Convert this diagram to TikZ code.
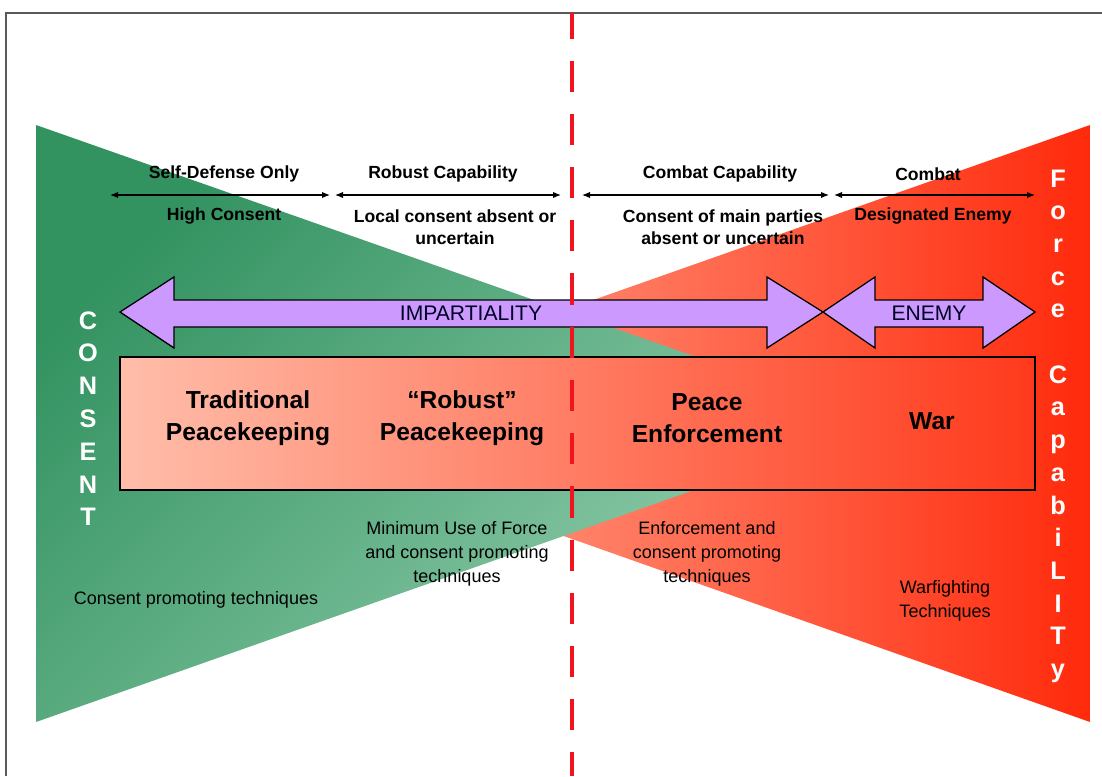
\documentclass[tikz,border=0pt]{standalone}
\usepackage{fontspec}
\setmainfont{Liberation Sans}
\usepackage{tikz}
\usetikzlibrary{arrows.meta}
\definecolor{consentdark}{RGB}{50,146,96}
\definecolor{consentlight}{RGB}{150,208,176}
\definecolor{forcelight}{RGB}{255,186,164}
\definecolor{forcedark}{RGB}{255,42,12}
\definecolor{boxleft}{RGB}{255,190,170}
\definecolor{boxmid}{RGB}{255,142,122}
\definecolor{boxright}{RGB}{255,58,28}
\definecolor{impfill}{RGB}{204,153,255}
\definecolor{divred}{RGB}{240,20,30}
\newcommand{\blockarrow}[4]{
    \draw[blockarr] (#1,312) -- (#2,277) -- (#2,300) -- (#3,300) -- (#3,277) -- (#4,312)
        -- (#3,348) -- (#3,327) -- (#2,327) -- (#2,348) -- cycle;
}

\begin{document}
\begin{tikzpicture}[x=0.025cm, y=-0.025cm,
        blockarr/.style={fill=impfill, draw=black, line width=0.9pt, line join=miter},
        rangearr/.style={{Latex[length=2mm,width=1.6mm]}-{Latex[length=2mm,width=1.6mm]}, line width=0.9pt},
        toplabel/.style={font=\bfseries\fontsize{12.5}{15.5}\selectfont, align=center},
        boxlabel/.style={font=\bfseries\fontsize{17.5}{22.5}\selectfont, align=center},
        lowlabel/.style={font=\fontsize{12.8}{17}\selectfont, align=center},
        arrlabel/.style={font=\fontsize{15}{18}\selectfont, text=black!85!blue},
        vletter/.style={font=\bfseries\fontsize{18}{18}\selectfont, text=white, anchor=base, inner sep=0pt}]
        \useasboundingbox (0,0) rectangle (1102,776);
        \draw[line width=1.2pt, draw=black!65] (6,776) -- (6,13) -- (1102,13);
        \shade[left color=forcelight, right color=forcedark] (1090,125) -- (1090,722) -- (244,423) -- cycle;
        \shade[top color=consentdark, bottom color=consentlight, shading angle=45] (36,125) -- (36,722) -- (884,423) -- cycle;
        \shadedraw[draw=black, line width=1pt, left color=boxleft, middle color=boxmid, right color=boxright] (120,357) rectangle (1035,490);
        \blockarrow{120}{174}{767}{823}
        \blockarrow{823}{875}{983}{1035}
        \node[arrlabel] (impart) at (471,313) {IMPARTIALITY};
        \node[arrlabel] (enemy) at (929,313) {ENEMY};
        \coordinate (r1a) at (110,195);
        \coordinate (r1b) at (330,195);
        \coordinate (r2a) at (335,195);
        \coordinate (r2b) at (561,195);
        \coordinate (r3a) at (582,195);
        \coordinate (r3b) at (829,195);
        \coordinate (r4a) at (834,195);
        \coordinate (r4b) at (1035,195);
        \draw[rangearr] (r1a) -- (r1b);
        \draw[rangearr] (r2a) -- (r2b);
        \draw[rangearr] (r3a) -- (r3b);
        \draw[rangearr] (r4a) -- (r4b);
        \node[toplabel] (selfdef) at (224,174) {Self-Defense Only};
        \node[toplabel] (robcap) at (443,174) {Robust Capability};
        \node[toplabel] (combcap) at (720,174) {Combat Capability};
        \node[toplabel] (combat) at (928,174) {Combat};
        \node[toplabel] (highcons) at (224,216) {High Consent};
        \node[toplabel] (localcons) at (455,227) {Local consent absent or\\uncertain};
        \node[toplabel] (maincons) at (723,227) {Consent of main parties\\absent or uncertain};
        \node[toplabel] (desenemy) at (933,216) {Designated Enemy};
        \node[boxlabel] (tradpk) at (248,418) {Traditional\\Peacekeeping};
        \node[boxlabel] (robpk) at (462,418) {“Robust”\\Peacekeeping};
        \node[boxlabel] (peaceenf) at (707,418) {Peace\\Enforcement};
        \node[boxlabel] (war) at (932,421) {War};
        \node[lowlabel] (minforce) at (457,554) {Minimum Use of Force\\and consent promoting\\techniques};
        \node[lowlabel] (enfcons) at (707,554) {Enforcement and\\consent promoting\\techniques};
        \node[lowlabel] (conspromo) at (196,600) {Consent promoting techniques};
        \node[lowlabel] (warfight) at (945,601) {Warfighting\\Techniques};
        \foreach \l [count=\i] in {C,O,N,S,E,N,T}
            \node[vletter] (cons\i) at (88,{329+32.8*(\i-1)}) {\l};
        \foreach \l [count=\i] in {F,o,r,c,e,{},C,a,p,a,b,i,L,I,T,y}
            \node[vletter] (force\i) at (1058,{187+32.7*(\i-1)}) {\l};
        \coordinate (divtop) at (572,13);
        \coordinate (divbot) at (572,776);
        \draw[divred, line width=3.5pt, dash pattern=on 0.78cm off 0.55cm, dash phase=0.14cm] (divtop) -- (divbot);
    \end{tikzpicture}
\end{document}
